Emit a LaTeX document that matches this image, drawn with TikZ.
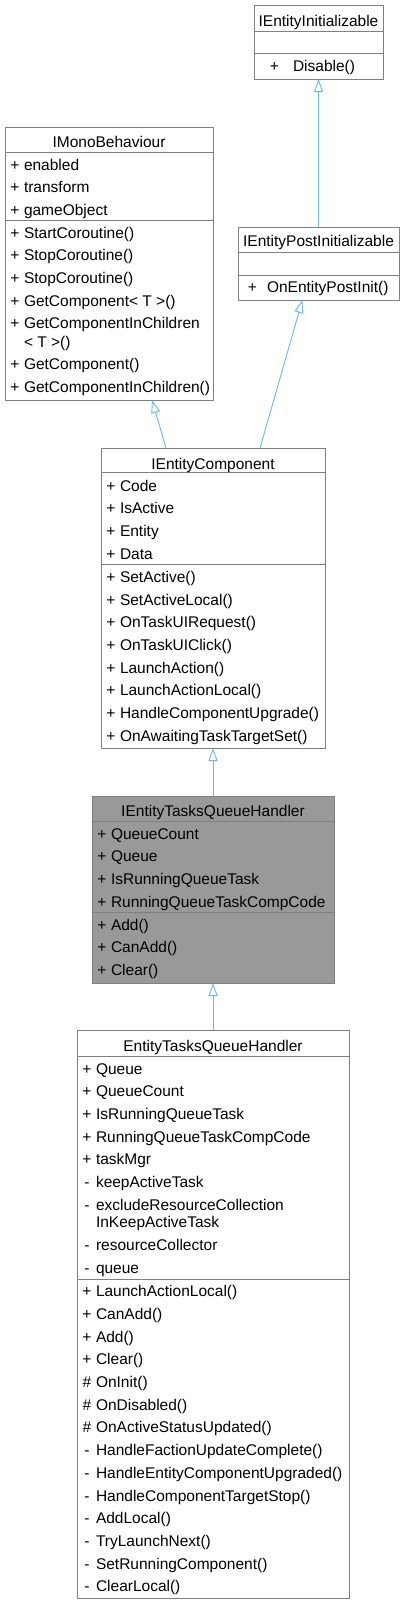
\documentclass[tikz,border=0pt]{standalone}
\usepackage{fontspec}
\setmainfont{Liberation Sans}
\usetikzlibrary{arrows.meta, calc}
\tikzset{x=1pt,y=-1pt, >={Triangle[length=13pt,width=9pt,fill=white]}}
\definecolor{boxgray}{HTML}{808080}
\definecolor{boxfill}{HTML}{999999}
\definecolor{edgeblue}{HTML}{63B8FF}
\newcommand\umlfont{\fontsize{15.5}{17.5}\selectfont}

\begin{document}
\begin{tikzpicture}
% Style
[
    line cap=butt,
    every node/.style={font=\umlfont, inner sep=0pt, outer sep=0pt},
    class box/.style={draw=boxgray, line width=1pt, fill=white, anchor=north west},
    class line/.style={draw=boxgray, line width=1pt},
    class name/.style={anchor=base},
    visibility/.style={anchor=base},
    member/.style={anchor=base west},
    inherit/.style={draw=edgeblue, line width=0.9pt, ->}
]
\useasboundingbox (0,0) rectangle (405,1604);

%=================================== Start ===================================
{
    % Draw: IEntityInitializable
    \node[class box, minimum width=129pt, minimum height=74pt] (ei) at (254,5) {};
    \draw[class line] (ei.west |- 0,31) -- (ei.east |- 0,31);
    \draw[class line] (ei.west |- 0,53) -- (ei.east |- 0,53);
    \node[class name] (ei-name) at (318.5,26) {IEntityInitializable};
    \node[visibility] (ei-m0-s) at (274.5,71) {+};
    \node[member] (ei-m0) at (293,71) {Disable()};

    % Draw: IMonoBehaviour
    \node[class box, minimum width=208pt, minimum height=273pt] (mb) at (5,127) {};
    \draw[class line] (mb.west |- 0,152) -- (mb.east |- 0,152);
    \draw[class line] (mb.west |- 0,220) -- (mb.east |- 0,220);
    \node[class name] (mb-name) at (109,147) {IMonoBehaviour};
    \foreach \s/\t [count=\i from 0] in {+/enabled, +/transform, +/gameObject} {
        \node[visibility] (mb-a\i-s) at (15, 170+\i*22.7) {\s};
        \node[member] (mb-a\i) at (24, 170+\i*22.7) {\t};
    }
    \foreach \s/\t [count=\i from 0] in {+/StartCoroutine(), +/StopCoroutine(), +/StopCoroutine(),
        +/GetComponent< T >(), +/GetComponentInChildren} {
        \node[visibility] (mb-m\i-s) at (15, 238+\i*22.7) {\s};
        \node[member] (mb-m\i) at (24, 238+\i*22.7) {\t};
    }
    \node[member] (mb-m4b) at (24,347) {< T >()};
    \foreach \s/\t [count=\i from 0] in {+/GetComponent(), +/GetComponentInChildren()} {
        \node[visibility] (mb-n\i-s) at (15, 369.6+\i*22.7) {\s};
        \node[member] (mb-n\i) at (24, 369.6+\i*22.7) {\t};
    }

    % Draw: IEntityPostInitializable
    \node[class box, minimum width=161pt, minimum height=73pt] (pi) at (238,227) {};
    \draw[class line] (pi.west |- 0,252) -- (pi.east |- 0,252);
    \draw[class line] (pi.west |- 0,275) -- (pi.east |- 0,275);
    \node[class name] (pi-name) at (318.5,246.7) {IEntityPostInitializable};
    \node[visibility] (pi-m0-s) at (252.4,292.7) {+};
    \node[member] (pi-m0) at (267,292.7) {OnEntityPostInit()};

    % Draw: IEntityComponent
    \node[class box, minimum width=224pt, minimum height=300pt] (ec) at (101,448) {};
    \draw[class line] (ec.west |- 0,472.7) -- (ec.east |- 0,472.7);
    \draw[class line] (ec.west |- 0,564) -- (ec.east |- 0,564);
    \node[class name] (ec-name) at (213,469.3) {IEntityComponent};
    \foreach \s/\t [count=\i from 0] in {+/Code, +/IsActive, +/Entity, +/Data} {
        \node[visibility] (ec-a\i-s) at (111, 491+\i*22.7) {\s};
        \node[member] (ec-a\i) at (120, 491+\i*22.7) {\t};
    }
    \foreach \s/\t [count=\i from 0] in {+/SetActive(), +/SetActiveLocal(), +/OnTaskUIRequest(),
        +/OnTaskUIClick(), +/LaunchAction(), +/LaunchActionLocal(), +/HandleComponentUpgrade(),
        +/OnAwaitingTaskTargetSet()} {
        \node[visibility] (ec-m\i-s) at (111, 582.3+\i*22.7) {\s};
        \node[member] (ec-m\i) at (120, 582.3+\i*22.7) {\t};
    }

    % Draw: IEntityTasksQueueHandler
    \node[class box, fill=boxfill, minimum width=242pt, minimum height=187pt] (ietqh) at (92,796) {};
    \draw[class line] (ietqh.west |- 0,821) -- (ietqh.east |- 0,821);
    \draw[class line] (ietqh.west |- 0,912) -- (ietqh.east |- 0,912);
    \node[class name] (ietqh-name) at (213,816.7) {IEntityTasksQueueHandler};
    \foreach \s/\t [count=\i from 0] in {+/QueueCount, +/Queue, +/IsRunningQueueTask,
        +/RunningQueueTaskCompCode} {
        \node[visibility] (ietqh-a\i-s) at (102, 839+\i*22.7) {\s};
        \node[member] (ietqh-a\i) at (111, 839+\i*22.7) {\t};
    }
    \foreach \s/\t [count=\i from 0] in {+/Add(), +/CanAdd(), +/Clear()} {
        \node[visibility] (ietqh-m\i-s) at (102, 930+\i*22.7) {\s};
        \node[member] (ietqh-m\i) at (111, 930+\i*22.7) {\t};
    }

    % Draw: EntityTasksQueueHandler
    \node[class box, minimum width=272pt, minimum height=568pt] (etqh) at (77,1030) {};
    \draw[class line] (etqh.west |- 0,1056) -- (etqh.east |- 0,1056);
    \draw[class line] (etqh.west |- 0,1279) -- (etqh.east |- 0,1279);
    \node[class name] (etqh-name) at (213,1051) {EntityTasksQueueHandler};
    \foreach \s/\t [count=\i from 0] in {+/Queue, +/QueueCount, +/IsRunningQueueTask,
        +/RunningQueueTaskCompCode, +/taskMgr, -/keepActiveTask, -/excludeResourceCollection} {
        \node[visibility] (etqh-a\i-s) at (87, 1074+\i*22.7) {\s};
        \node[member] (etqh-a\i) at (96, 1074+\i*22.7) {\t};
    }
    \node[member] (etqh-a6b) at (96,1227.7) {InKeepActiveTask};
    \foreach \s/\t [count=\i from 0] in {-/resourceCollector, -/queue} {
        \node[visibility] (etqh-b\i-s) at (87, 1250.7+\i*22.7) {\s};
        \node[member] (etqh-b\i) at (96, 1250.7+\i*22.7) {\t};
    }
    \foreach \s/\t [count=\i from 0] in {+/LaunchActionLocal(), +/CanAdd(), +/Add(), +/Clear(),
        \#/OnInit(), \#/OnDisabled(), \#/OnActiveStatusUpdated(), -/HandleFactionUpdateComplete(),
        -/HandleEntityComponentUpgraded(), -/HandleComponentTargetStop(), -/AddLocal(),
        -/TryLaunchNext(), -/SetRunningComponent(), -/ClearLocal()} {
        \node[visibility] (etqh-m\i-s) at (87, 1296.7+\i*22.7) {\s};
        \node[member] (etqh-m\i) at (96, 1296.7+\i*22.7) {\t};
    }

    % Draw: Inheritance
    \draw[inherit] (pi.north) -- (ei.south);
    \draw[inherit] ($(ec.north west)!0.29!(ec.north east)$) -- ($(mb.south west)!0.707!(mb.south east)$);
    \draw[inherit] ($(ec.north west)!0.71!(ec.north east)$) -- ($(pi.south west)!0.40!(pi.south east)$);
    \draw[inherit] (ietqh.north) -- (ec.south);
    \draw[inherit] (etqh.north) -- (ietqh.south);
}
%==================================== END ====================================

\end{tikzpicture}
\end{document}
